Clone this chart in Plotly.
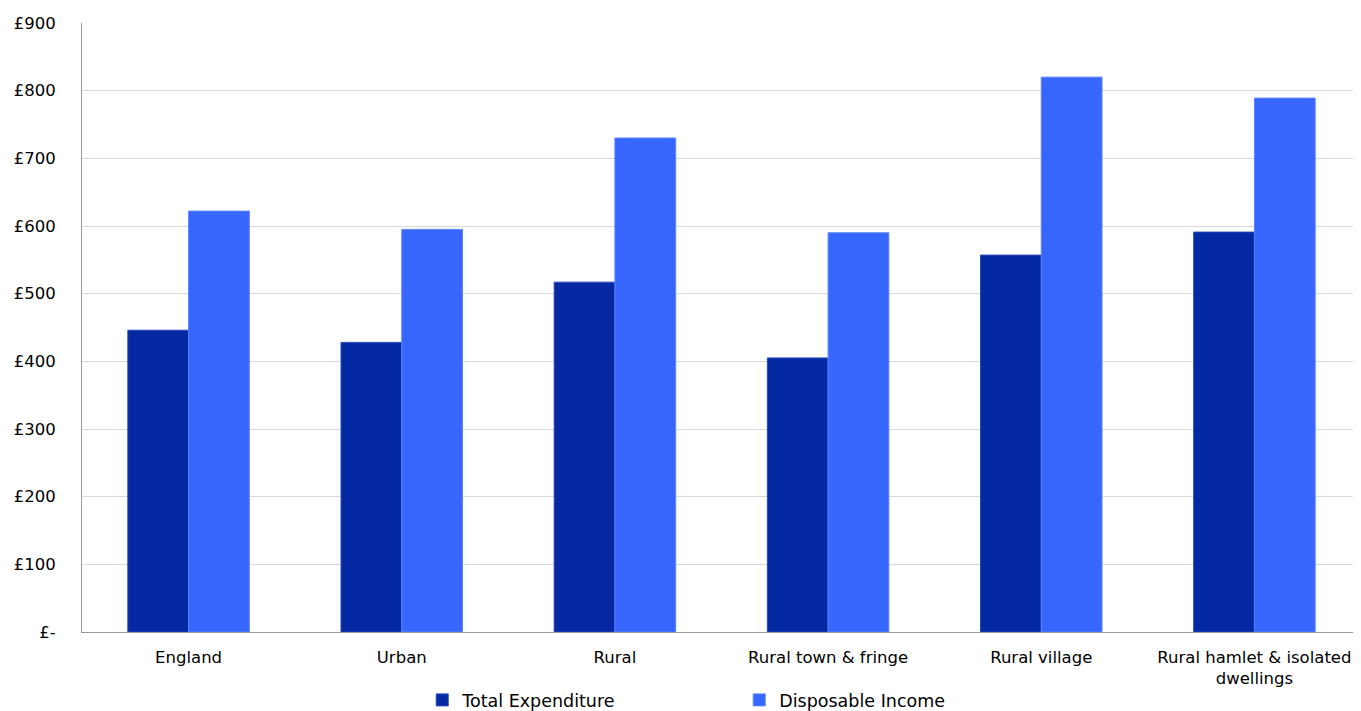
import plotly.graph_objects as go

categories = ["England", "Urban", "Rural", "Rural town & fringe", "Rural village",
              "Rural hamlet & isolated<br>dwellings"]
total_expenditure = [446, 428, 517, 405, 557, 591]
disposable_income = [622, 595, 730, 590, 820, 789]
tick_vals = [0, 100, 200, 300, 400, 500, 600, 700, 800, 900]
tick_text = ["£-", "£100", "£200", "£300", "£400", "£500", "£600", "£700", "£800", "£900"]

FONT = "DejaVu Sans, Verdana, sans-serif"

fig = go.Figure()
fig.add_trace(go.Bar(x=categories, y=total_expenditure, name="Total Expenditure",
                     marker=dict(color="#0529A3", line=dict(color="#2A48B8", width=1))))
fig.add_trace(go.Bar(x=categories, y=disposable_income, name="Disposable Income",
                     marker=dict(color="#3666FE", line=dict(color="#5A84FF", width=1))))

# the page body has an 8px margin; size/margins compensate so the plot lands in place
fig.update_layout(
    width=1353, height=703,
    margin=dict(l=74, r=0, t=15, b=79, autoexpand=False),
    paper_bgcolor="white", plot_bgcolor="white",
    barmode="group", bargap=0.43, bargroupgap=0,
    font=dict(family=FONT, size=16.5, color="#000000"),
    showlegend=True,
    legend=dict(orientation="h", x=0.266, xanchor="left", y=-86 / 609, yanchor="bottom",
                entrywidth=272, entrywidthmode="pixels",
                font=dict(family=FONT, size=17.5), itemwidth=30, tracegroupgap=0),
    xaxis=dict(showline=True, linecolor="#9a9a9a", linewidth=1, ticks="",
               tickfont=dict(size=16.5), automargin=False, ticklabelstandoff=10),
    yaxis=dict(range=[0, 900], tickvals=tick_vals, ticktext=tick_text,
               showgrid=True, gridcolor="#d9d9d9", gridwidth=1,
               showline=True, linecolor="#9a9a9a", linewidth=1,
               zeroline=False, ticks="", tickfont=dict(size=16.5), automargin=False,
               ticklabelstandoff=22),
)

fig.write_html("out.html")
